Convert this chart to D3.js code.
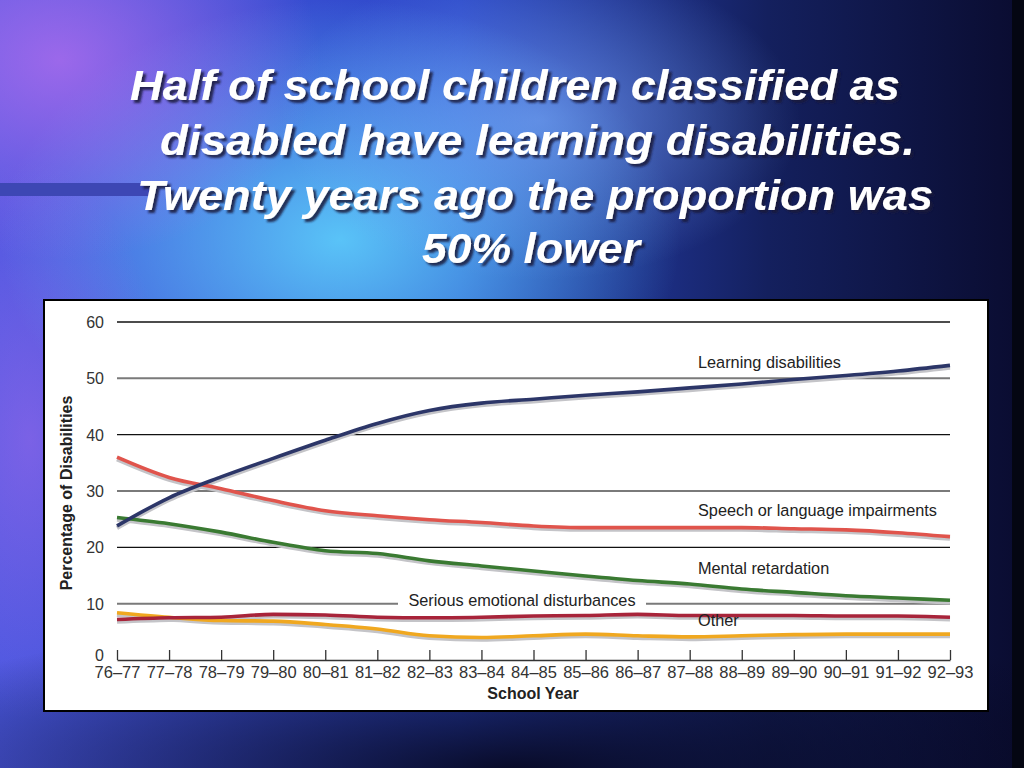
<!DOCTYPE html>
<html lang="en">
<head>
<meta charset="utf-8">
<title>Learning disabilities share</title>
<style>
  html, body { margin: 0; padding: 0; background: #0b0f3a; }
  svg { display: block; }
  text { font-family: "Liberation Sans", Arial, sans-serif; }
</style>
</head>
<body>
<div id="chart"></div>
<script src="https://cdnjs.cloudflare.com/ajax/libs/d3/7.8.5/d3.min.js"></script>
<script>
// school years on the x axis
var years = ["76\u201377", "77\u201378", "78\u201379", "79\u201380", "80\u201381", "81\u201382",
  "82\u201383", "83\u201384", "84\u201385", "85\u201386", "86\u201387", "87\u201388",
  "88\u201389", "89\u201390", "90\u201391", "91\u201392", "92\u201393"];

// percentage of disabilities
var learning = [23.8, 28.8, 32.5, 35.8, 39, 42, 44.3, 45.6, 46.3, 47, 47.6, 48.3, 49, 49.8, 50.5, 51.3, 52.3];
var speech = [36, 32.4, 30.4, 28.3, 26.5, 25.6, 24.9, 24.4, 23.8, 23.5, 23.5, 23.5, 23.5, 23.3, 23.1, 22.6, 21.9];
var mental = [25.3, 24.2, 22.7, 20.9, 19.4, 18.9, 17.6, 16.7, 15.8, 14.9, 14.1, 13.5, 12.6, 12, 11.4, 11, 10.6];
var emotional = [7.2, 7.5, 7.6, 8.1, 8.0, 7.6, 7.5, 7.6, 7.8, 7.9, 8.1, 7.9, 7.9, 7.9, 7.8, 7.8, 7.6];
var other = [8.4, 7.6, 7.0, 6.9, 6.3, 5.5, 4.3, 4.0, 4.3, 4.6, 4.3, 4.1, 4.3, 4.5, 4.6, 4.6, 4.6];

var yTicks = [0, 10, 20, 30, 40, 50, 60];

var titleLines = ["Half of school children classified as",
  "disabled have learning disabilities.",
  "Twenty years ago the proportion was",
  "50% lower"];

var W = 1024, H = 768;

var svg = d3.select("#chart").append("svg")
  .attr("width", W)
  .attr("height", H);

var defs = svg.append("defs");

// slide background
var base = defs.append("linearGradient").attr("id", "bg").attr("x1", 0).attr("x2", 1).attr("y1", 0).attr("y2", 0);
base.append("stop").attr("offset", "0%").attr("stop-color", "#4a58e0");
base.append("stop").attr("offset", "45%").attr("stop-color", "#2c48c8");
base.append("stop").attr("offset", "75%").attr("stop-color", "#14205e");
base.append("stop").attr("offset", "100%").attr("stop-color", "#0a0c30");

function glow(id, color, op) {
  var g = defs.append("radialGradient").attr("id", id);
  g.append("stop").attr("offset", "0%").attr("stop-color", color).attr("stop-opacity", op);
  g.append("stop").attr("offset", "100%").attr("stop-color", color).attr("stop-opacity", 0);
}
glow("g1", "#60d8ff", 0.85);
glow("g2", "#c070f0", 0.7);
glow("g3", "#80b0ff", 0.6);
glow("g4", "#050518", 0.9);

var shadow = defs.append("filter").attr("id", "drop")
  .attr("x", "-5%").attr("y", "-20%").attr("width", "110%").attr("height", "150%");
shadow.append("feDropShadow")
  .attr("dx", 3).attr("dy", 3).attr("stdDeviation", 0.8)
  .attr("flood-color", "#15183a").attr("flood-opacity", 0.85);

svg.append("rect").attr("width", W).attr("height", H).attr("fill", "url(#bg)");
svg.append("ellipse").attr("cx", 340).attr("cy", 240).attr("rx", 340).attr("ry", 240).attr("fill", "url(#g1)");
svg.append("ellipse").attr("cx", 60).attr("cy", 60).attr("rx", 260).attr("ry", 200).attr("fill", "url(#g2)");
svg.append("ellipse").attr("cx", 30).attr("cy", 440).attr("rx", 140).attr("ry", 280).attr("fill", "url(#g2)").attr("opacity", 0.6);
svg.append("ellipse").attr("cx", 540).attr("cy", 120).attr("rx", 260).attr("ry", 160).attr("fill", "url(#g3)");
svg.append("ellipse").attr("cx", 512).attr("cy", 770).attr("rx", 700).attr("ry", 160).attr("fill", "url(#g4)");
svg.append("rect").attr("x", 1012).attr("width", 12).attr("height", H).attr("fill", "#040612");

// the little bar on the left
svg.append("rect").attr("x", 0).attr("y", 183).attr("width", 150).attr("height", 13).attr("fill", "#3d47b4");

// title
var tpos = [[130, 100, 770], [160, 155, 755], [137, 210, 796], [422, 263, 218]];
svg.append("g")
  .attr("filter", "url(#drop)")
  .style("font-weight", "bold")
  .style("font-style", "italic")
  .style("font-size", "43px")
  .selectAll("text")
  .data(titleLines)
  .join("text")
  .attr("x", function (d, i) { return tpos[i][0]; })
  .attr("y", function (d, i) { return tpos[i][1]; })
  .attr("textLength", function (d, i) { return tpos[i][2]; })
  .attr("lengthAdjust", "spacingAndGlyphs")
  .attr("fill", "#ffffff")
  .text(function (d) { return d; });

// chart box
svg.append("rect")
  .attr("x", 44).attr("y", 300).attr("width", 944).attr("height", 411)
  .attr("fill", "#ffffff")
  .attr("stroke", "#000").attr("stroke-width", 2);

var x = d3.scalePoint().domain(years).range([117, 950]);
var y = d3.scaleLinear().domain([0, 60]).range([660, 322]);

// gridlines
svg.append("g")
  .selectAll("line")
  .data(yTicks.filter(function (d) { return d > 0; }))
  .join("line")
  .attr("x1", 117).attr("x2", 950)
  .attr("y1", function (d) { return y(d); })
  .attr("y2", function (d) { return y(d); })
  .attr("stroke", function (d) { return d % 20 === 0 ? "#111" : "#7a7a7a"; })
  .attr("stroke-width", function (d) { return d % 20 === 0 ? 1.3 : 2; });

// y axis labels ("0" sits a little higher, clear of the year labels)
svg.append("g")
  .selectAll("text")
  .data(yTicks)
  .join("text")
  .attr("x", 104)
  .attr("y", function (d) { return d === 0 ? y(d) + 1 : y(d) + 6; })
  .attr("text-anchor", "end")
  .style("font-size", "16px")
  .attr("fill", "#333")
  .text(function (d) { return d; });

// x axis with upward ticks
var xAxis = svg.append("g")
  .attr("transform", "translate(0," + y(0) + ")")
  .call(d3.axisBottom(x).tickSizeInner(-10).tickSizeOuter(0));
xAxis.select(".domain").attr("stroke", "#333").attr("stroke-width", 1.3);
xAxis.selectAll(".tick line").attr("stroke", "#333").attr("stroke-width", 1.3);
xAxis.selectAll(".tick text")
  .attr("y", 6)
  .attr("fill", "#333")
  .style("font-family", "'Liberation Sans', Arial, sans-serif")
  .style("font-size", "16.5px");

svg.append("text")
  .attr("x", 533).attr("y", 699)
  .attr("text-anchor", "middle")
  .style("font-weight", "bold").style("font-size", "16px")
  .attr("fill", "#222")
  .text("School Year");

svg.append("text")
  .attr("transform", "translate(72,493) rotate(-90)")
  .attr("text-anchor", "middle")
  .style("font-weight", "bold").style("font-size", "16px")
  .attr("fill", "#222")
  .text("Percentage of Disabilities");

// "Serious emotional disturbances" sits on the 10 line
svg.append("rect")
  .attr("x", 398).attr("y", y(10) - 8).attr("width", 248).attr("height", 16)
  .attr("fill", "#ffffff");

var series = [
  { values: other, color: "#f0a820" },
  { values: emotional, color: "#a8243a" },
  { values: mental, color: "#3a7a32" },
  { values: speech, color: "#e0544c" },
  { values: learning, color: "#2c3668" }
];

var line = d3.line()
  .x(function (d, i) { return x(years[i]); })
  .y(function (d) { return y(d); })
  .curve(d3.curveMonotoneX);

var lines = svg.append("g").attr("fill", "none");
lines.selectAll(".shadow")
  .data(series)
  .join("path")
  .attr("class", "shadow")
  .attr("transform", "translate(0,2)")
  .attr("d", function (d) { return line(d.values); })
  .attr("stroke", "#c4c4c8")
  .attr("stroke-width", 4.5);
lines.selectAll(".series")
  .data(series)
  .join("path")
  .attr("class", "series")
  .attr("d", function (d) { return line(d.values); })
  .attr("stroke", function (d) { return d.color; })
  .attr("stroke-width", 3.6);

// series labels
var labels = [
  ["Learning disabilities", 698, 368, "start"],
  ["Speech or language impairments", 698, 516, "start"],
  ["Mental retardation", 698, 574, "start"],
  ["Serious emotional disturbances", 522, 606, "middle"],
  ["Other", 698, 626, "start"]
];
svg.append("g")
  .selectAll("text")
  .data(labels)
  .join("text")
  .attr("x", function (d) { return d[1]; })
  .attr("y", function (d) { return d[2]; })
  .attr("text-anchor", function (d) { return d[3]; })
  .style("font-size", "16.3px")
  .attr("fill", "#222")
  .text(function (d) { return d[0]; });
</script>
</body>
</html>
